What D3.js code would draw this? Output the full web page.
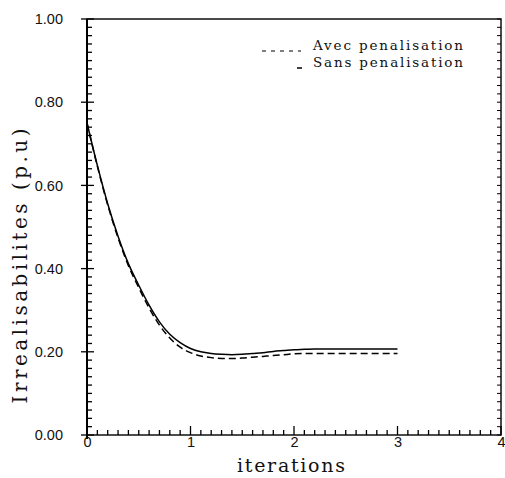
<!DOCTYPE html>
<html><head><meta charset="utf-8">
<script src="https://cdn.jsdelivr.net/npm/d3@7"></script>
<style>body{margin:0;background:#fff}svg{display:block}</style>
</head><body>
<svg id="c" width="505" height="478"></svg>
<script>
const xs = [0,0.1,0.2,0.3,0.4,0.5,0.6,0.7,0.8,0.9,1.0,1.1,1.2,1.3,1.4,1.5,1.6,1.7,1.8,1.9,2.0,2.1,2.2,2.3,2.4,2.5,2.6,2.7,2.8,2.9,3.0];
const sansPen = [0.75,0.648,0.556,0.478,0.412,0.36,0.312,0.272,0.242,0.222,0.208,0.2,0.196,0.194,0.193,0.194,0.196,0.198,0.201,0.203,0.205,0.206,0.207,0.207,0.207,0.207,0.207,0.207,0.207,0.207,0.207];
const avecPen = [0.75,0.646,0.553,0.474,0.407,0.354,0.305,0.264,0.233,0.211,0.198,0.19,0.186,0.184,0.184,0.185,0.187,0.189,0.191,0.193,0.195,0.196,0.196,0.196,0.196,0.196,0.196,0.196,0.196,0.196,0.196];
const xTicks = [0,1,2,3,4];
const yTicks = [0,0.2,0.4,0.6,0.8,1.0];
const seriesNames = ["Avec penalisation","Sans penalisation"];

const svg = d3.select("#c");
const x = d3.scaleLinear().domain([0,4]).range([87,501]);
const y = d3.scaleLinear().domain([0,1]).range([435,19]);

// frame
svg.append("rect").attr("x",x(0)).attr("y",y(1)).attr("width",x(4)-x(0)).attr("height",y(0)-y(1))
  .attr("fill","none").attr("stroke","#111").attr("stroke-width",1.5);
svg.append("line").attr("x1",x(0)).attr("x2",x(0)).attr("y1",y(1)).attr("y2",y(0)+4).attr("stroke","#000").attr("stroke-width",2);

// minor ticks
const xMinor = d3.range(0,41).map(i=>i/10);
svg.append("g").selectAll("line").data(xMinor).join("line")
  .attr("x1",d=>x(d)).attr("x2",d=>x(d))
  .attr("y1",y(0)).attr("y2",d=>y(0)-(Math.abs(d-Math.round(d))<1e-9?9:5))
  .attr("stroke","#000").attr("stroke-width",1.3);
const yMinor = d3.range(0,51).map(i=>i/50);
svg.append("g").selectAll("line").data(yMinor).join("line")
  .attr("y1",d=>y(d)).attr("y2",d=>y(d))
  .attr("x1",d=>x(0)-(Math.abs(d*5-Math.round(d*5))<1e-9?6:0)).attr("x2",d=>x(0)+(Math.abs(d*5-Math.round(d*5))<1e-9?7:5))
  .attr("stroke","#000").attr("stroke-width",1.3);
svg.append("g").selectAll("line").data(yMinor).join("line")
  .attr("y1",d=>y(d)).attr("y2",d=>y(d))
  .attr("x1",x(4)).attr("x2",x(4)-4)
  .attr("stroke","#000").attr("stroke-width",1);

// axes labels via d3 axes
const ya = svg.append("g").attr("transform",`translate(${x(0)-8},0)`)
  .call(d3.axisLeft(y).tickValues(yTicks).tickSize(0).tickFormat(d3.format(".2f")));
ya.select(".domain").remove();
ya.selectAll("text").attr("font-family","Liberation Sans, Arial, sans-serif").attr("font-size",14.5).attr("fill","#111").attr("dx","-13");
const xa = svg.append("g").attr("transform",`translate(0,${y(0)})`)
  .call(d3.axisBottom(x).tickValues(xTicks).tickSize(0).tickFormat(d3.format("d")));
xa.select(".domain").remove();
xa.selectAll("text").attr("font-family","Liberation Sans, Arial, sans-serif").attr("font-size",14.5).attr("fill","#111").attr("dy","0.6em");

// titles
svg.append("text").attr("x",291).attr("y",472).attr("text-anchor","middle")
  .attr("font-family","DejaVu Serif, serif").attr("font-size",19).attr("textLength",108).attr("lengthAdjust","spacing")
  .attr("fill","#111").text("iterations");
svg.append("text").attr("transform","translate(27,266) rotate(-90)").attr("text-anchor","middle")
  .attr("font-family","DejaVu Serif, serif").attr("font-size",20).attr("textLength",275).attr("lengthAdjust","spacing")
  .attr("fill","#111").text("Irrealisabilites (p.u)");

// curves
const line = d3.line().x((d,i)=>x(xs[i])).y(d=>y(d)).curve(d3.curveMonotoneX);
svg.append("path").datum(sansPen).attr("d",line).attr("fill","none").attr("stroke","#000").attr("stroke-width",1.5);
svg.append("path").datum(avecPen).attr("d",line).attr("fill","none").attr("stroke","#000").attr("stroke-width",1.5).attr("stroke-dasharray","7,4");

// legend
const leg = svg.append("g");
leg.append("line").attr("x1",262).attr("x2",301).attr("y1",51).attr("y2",51).attr("stroke","#000").attr("stroke-width",1.2).attr("stroke-dasharray","4,5");
leg.append("line").attr("x1",297).attr("x2",302).attr("y1",68).attr("y2",68).attr("stroke","#000").attr("stroke-width",1.5);
leg.selectAll("text").data(seriesNames).join("text")
  .attr("x",313).attr("y",(d,i)=>50+i*17)
  .attr("font-family","DejaVu Serif, serif").attr("font-size",13.5).attr("textLength",150).attr("lengthAdjust","spacing")
  .attr("fill","#111").text(d=>d);
</script>
</body></html>
